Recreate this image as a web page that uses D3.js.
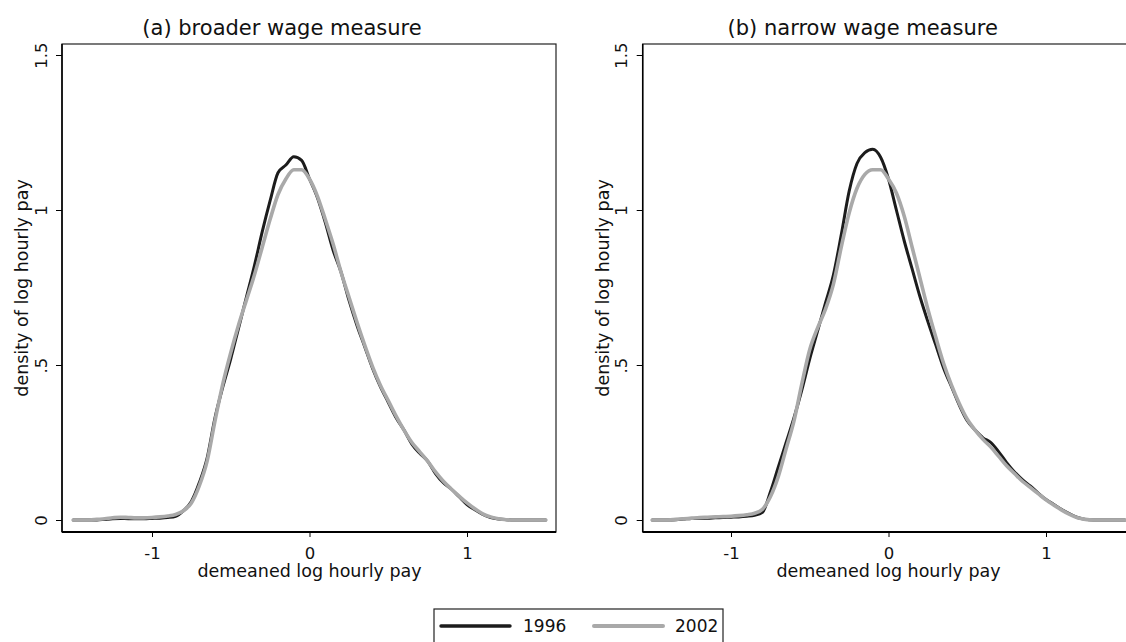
<!DOCTYPE html>
<html><head><meta charset="utf-8">
<script src="https://cdn.jsdelivr.net/npm/d3@7"></script>
<style>
html,body{margin:0;padding:0;background:#fff;}
svg{display:block;font-family:"DejaVu Sans",Verdana,sans-serif;}
</style></head>
<body><svg id="chart" width="1126" height="642"></svg>
<script>
// ---- data ----
const panelTitles = ["(a) broader wage measure", "(b) narrow wage measure"];
const seriesNames = ["1996", "2002"];
const xLabel = "demeaned log hourly pay";
const yLabel = "density of log hourly pay";
const xTicks = [-1, 0, 1];
const xTickLabels = ["-1", "0", "1"];
const yTicks = [0, 0.5, 1, 1.5];
const yTickLabels = ["0", ".5", "1", "1.5"];

const xGrid = [-1.5,-1.45,-1.4,-1.35,-1.3,-1.25,-1.2,-1.15,-1.1,-1.05,-1.0,-0.95,-0.9,-0.85,-0.8,-0.75,-0.7,-0.65,-0.6,-0.55,-0.5,-0.45,-0.4,-0.35,-0.3,-0.25,-0.2,-0.15,-0.1,-0.05,0,0.05,0.1,0.15,0.2,0.25,0.3,0.35,0.4,0.45,0.5,0.55,0.6,0.65,0.7,0.75,0.8,0.85,0.9,0.95,1.0,1.05,1.1,1.15,1.2,1.25,1.3,1.35,1.4,1.45,1.5];

const broad1996 = [0,0,0,0,0.002,0.004,0.005,0.004,0.004,0.004,0.005,0.006,0.008,0.012,0.03,0.06,0.12,0.2,0.33,0.43,0.52,0.62,0.72,0.82,0.93,1.03,1.12,1.145,1.172,1.16,1.10,1.04,0.96,0.87,0.80,0.71,0.63,0.56,0.49,0.43,0.38,0.33,0.29,0.245,0.215,0.19,0.15,0.12,0.10,0.075,0.05,0.033,0.018,0.008,0.003,0.001,0,0,0,0,0];
const broad2002 = [0,0,0,0.002,0.004,0.007,0.009,0.008,0.007,0.007,0.008,0.01,0.013,0.018,0.03,0.055,0.11,0.19,0.32,0.44,0.54,0.63,0.71,0.79,0.88,0.97,1.05,1.10,1.13,1.13,1.10,1.045,0.97,0.89,0.80,0.72,0.64,0.565,0.495,0.435,0.385,0.335,0.29,0.25,0.22,0.19,0.155,0.125,0.10,0.077,0.055,0.036,0.02,0.01,0.004,0.001,0,0,0,0,0];
const narrow1996 = [0,0,0,0.001,0.003,0.005,0.006,0.006,0.007,0.008,0.009,0.01,0.012,0.015,0.025,0.09,0.17,0.25,0.33,0.42,0.52,0.61,0.70,0.79,0.92,1.06,1.15,1.185,1.196,1.17,1.10,1.0,0.90,0.81,0.72,0.64,0.565,0.49,0.43,0.37,0.32,0.29,0.265,0.25,0.22,0.185,0.155,0.13,0.11,0.087,0.066,0.05,0.034,0.02,0.008,0.002,0,0,0,0,0];
const narrow2002 = [0,0,0,0.002,0.004,0.006,0.008,0.009,0.01,0.011,0.012,0.014,0.017,0.022,0.035,0.075,0.14,0.23,0.32,0.44,0.55,0.62,0.68,0.76,0.88,0.99,1.07,1.115,1.13,1.13,1.10,1.055,0.98,0.88,0.78,0.68,0.59,0.505,0.435,0.375,0.325,0.29,0.26,0.235,0.205,0.175,0.15,0.125,0.105,0.085,0.065,0.048,0.032,0.018,0.007,0.002,0,0,0,0,0];

const panelData = [[broad1996, broad2002], [narrow1996, narrow2002]];

// ---- styles ----
const colors = ["#1c1c1c", "#a9a9a9"];
const widths = [3, 3.6];

const svg = d3.select("#chart");
const panels = [
  {boxL: 62, boxR: 556, zero: 309.5, offset: 0},
  {boxL: 642.7, boxR: 1136.7, zero: 888.5, offset: 580.7}
];
const boxT = 44, boxB = 532;
const unitX = 157.5;
const y = d3.scaleLinear().domain([0, 1.5]).range([520, 55]);

panels.forEach((p, i) => {
  const x = d3.scaleLinear().domain([-1.5, 1.5]).range([p.zero - 1.5 * unitX, p.zero + 1.5 * unitX]);
  const g = svg.append("g");

  g.append("rect").attr("x", p.boxL).attr("y", boxT)
    .attr("width", p.boxR - p.boxL).attr("height", boxB - boxT)
    .attr("fill", "none").attr("stroke", "#222").attr("stroke-width", 1.2);

  const line = d3.line().x((d, k) => x(xGrid[k])).y(d => y(d)).curve(d3.curveMonotoneX);
  panelData[i].forEach((vals, s) => {
    g.append("path").datum(vals).attr("d", line)
      .attr("fill", "none").attr("stroke", colors[s]).attr("stroke-width", widths[s])
      .attr("stroke-linejoin", "round").attr("stroke-linecap", "round");
  });

  const xa = g.append("g").attr("transform", `translate(0,${boxB})`)
    .call(d3.axisBottom(x).tickValues(xTicks).tickFormat((d, k) => xTickLabels[k]).tickSize(5).tickSizeOuter(0));
  xa.select(".domain").attr("d", `M${p.boxL},0H${p.boxR}`).attr("stroke", "#000").attr("stroke-width", 2);
  xa.selectAll(".tick line").attr("stroke", "#000").attr("stroke-width", 1);
  xa.selectAll(".tick text").attr("y", 27).attr("dy", null)
    .attr("font-size", 16.5).attr("fill", "#111").attr("font-family", "DejaVu Sans");

  const ya = g.append("g").attr("transform", `translate(${p.boxL},0)`)
    .call(d3.axisLeft(y).tickValues(yTicks).tickFormat((d, k) => yTickLabels[k]).tickSize(6).tickSizeOuter(0));
  ya.select(".domain").attr("d", `M0,${boxT}V${boxB}`).attr("stroke", "#000").attr("stroke-width", 1.5);
  ya.selectAll(".tick line").attr("stroke", "#000").attr("stroke-width", 1);
  ya.selectAll(".tick text").attr("x", null).attr("dy", null)
    .attr("transform", "translate(-15.5,0) rotate(-90)")
    .attr("text-anchor", "middle").attr("font-size", 16.5).attr("fill", "#111").attr("font-family", "DejaVu Sans");

  g.append("text").attr("x", 282 + p.offset).attr("y", 35).attr("text-anchor", "middle")
    .attr("font-size", 21).attr("fill", "#111").text(panelTitles[i]);
  g.append("text").attr("x", x(0)).attr("y", 577).attr("text-anchor", "middle")
    .attr("font-size", 17.5).attr("fill", "#111").text(xLabel);
  g.append("text").attr("transform", `translate(${28 + p.offset},${(boxT + boxB) / 2}) rotate(-90)`)
    .attr("text-anchor", "middle").attr("font-size", 17.5).attr("fill", "#111").text(yLabel);
});

const lg = svg.append("g");
lg.append("rect").attr("x", 434).attr("y", 609).attr("width", 289).attr("height", 50)
  .attr("fill", "#fff").attr("stroke", "#222").attr("stroke-width", 1.2);
const legendItems = [{x1: 441, x2: 510, tx: 523}, {x1: 594, x2: 663, tx: 675}];
legendItems.forEach((it, s) => {
  lg.append("line").attr("x1", it.x1).attr("x2", it.x2).attr("y1", 626).attr("y2", 626)
    .attr("stroke", colors[s]).attr("stroke-width", widths[s] + 0.4).attr("stroke-linecap", "round");
  lg.append("text").attr("x", it.tx).attr("y", 632).attr("font-size", 17).attr("fill", "#111").text(seriesNames[s]);
});
</script></body></html>
